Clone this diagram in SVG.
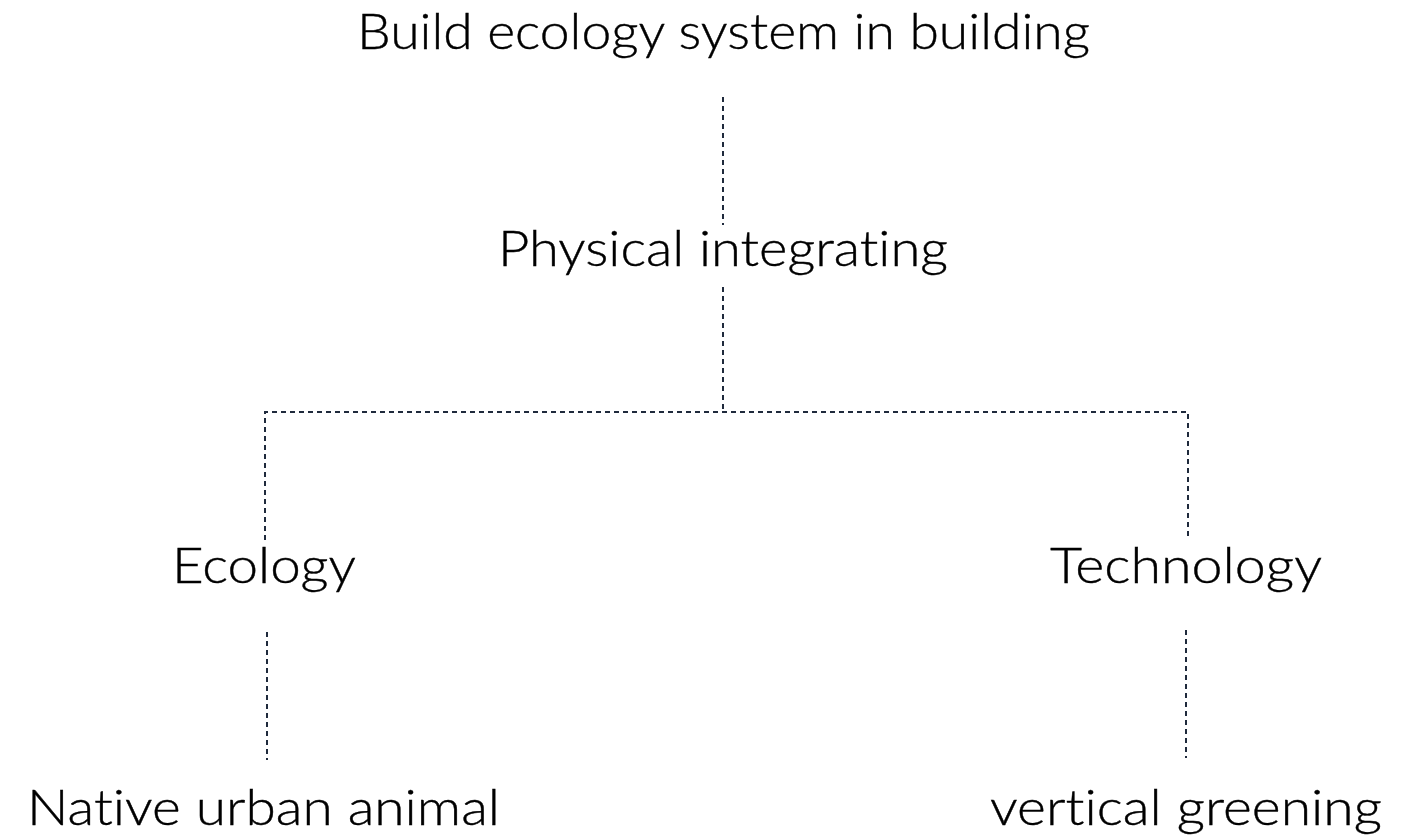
<svg xmlns="http://www.w3.org/2000/svg" width="1425" height="836" viewBox="0 0 1425 836">
  <style>
    .lbl { font-family: Lato, "Liberation Sans", Arial, sans-serif; font-weight: 300; font-size: 49px; fill: #000; font-variant-ligatures: none; stroke: #000; stroke-width: 0.4; }
    .conn { fill: none; stroke: #1f2a3c; stroke-width: 2; stroke-dasharray: 5 4; }
  </style>
  <rect width="1425" height="836" fill="#fff"/>
  <g id="connectors">
    <line class="conn" x1="723" y1="97" x2="723" y2="225"/>
    <line class="conn" x1="723" y1="287" x2="723" y2="412"/>
    <polyline class="conn" points="265,540 265,412 1188,412 1188,538"/>
    <line class="conn" x1="267" y1="632" x2="267" y2="760"/>
    <line class="conn" x1="1186" y1="630" x2="1186" y2="758"/>
  </g>
  <g id="node-root"><text class="lbl" x="357" y="49" textLength="733" lengthAdjust="spacingAndGlyphs">Build ecology system in building</text></g>
  <g id="node-physical"><text class="lbl" x="498" y="266" textLength="450" lengthAdjust="spacingAndGlyphs">Physical integrating</text></g>
  <g id="node-ecology"><text class="lbl" x="172" y="583" textLength="184" lengthAdjust="spacingAndGlyphs">Ecology</text></g>
  <g id="node-technology"><text class="lbl" x="1050" y="583" textLength="272" lengthAdjust="spacingAndGlyphs">Technology</text></g>
  <g id="node-native"><text class="lbl" x="27" y="825" textLength="473" lengthAdjust="spacingAndGlyphs">Native urban animal</text></g>
  <g id="node-vertical"><text class="lbl" x="990" y="825" textLength="392" lengthAdjust="spacingAndGlyphs">vertical greening</text></g>
</svg>
